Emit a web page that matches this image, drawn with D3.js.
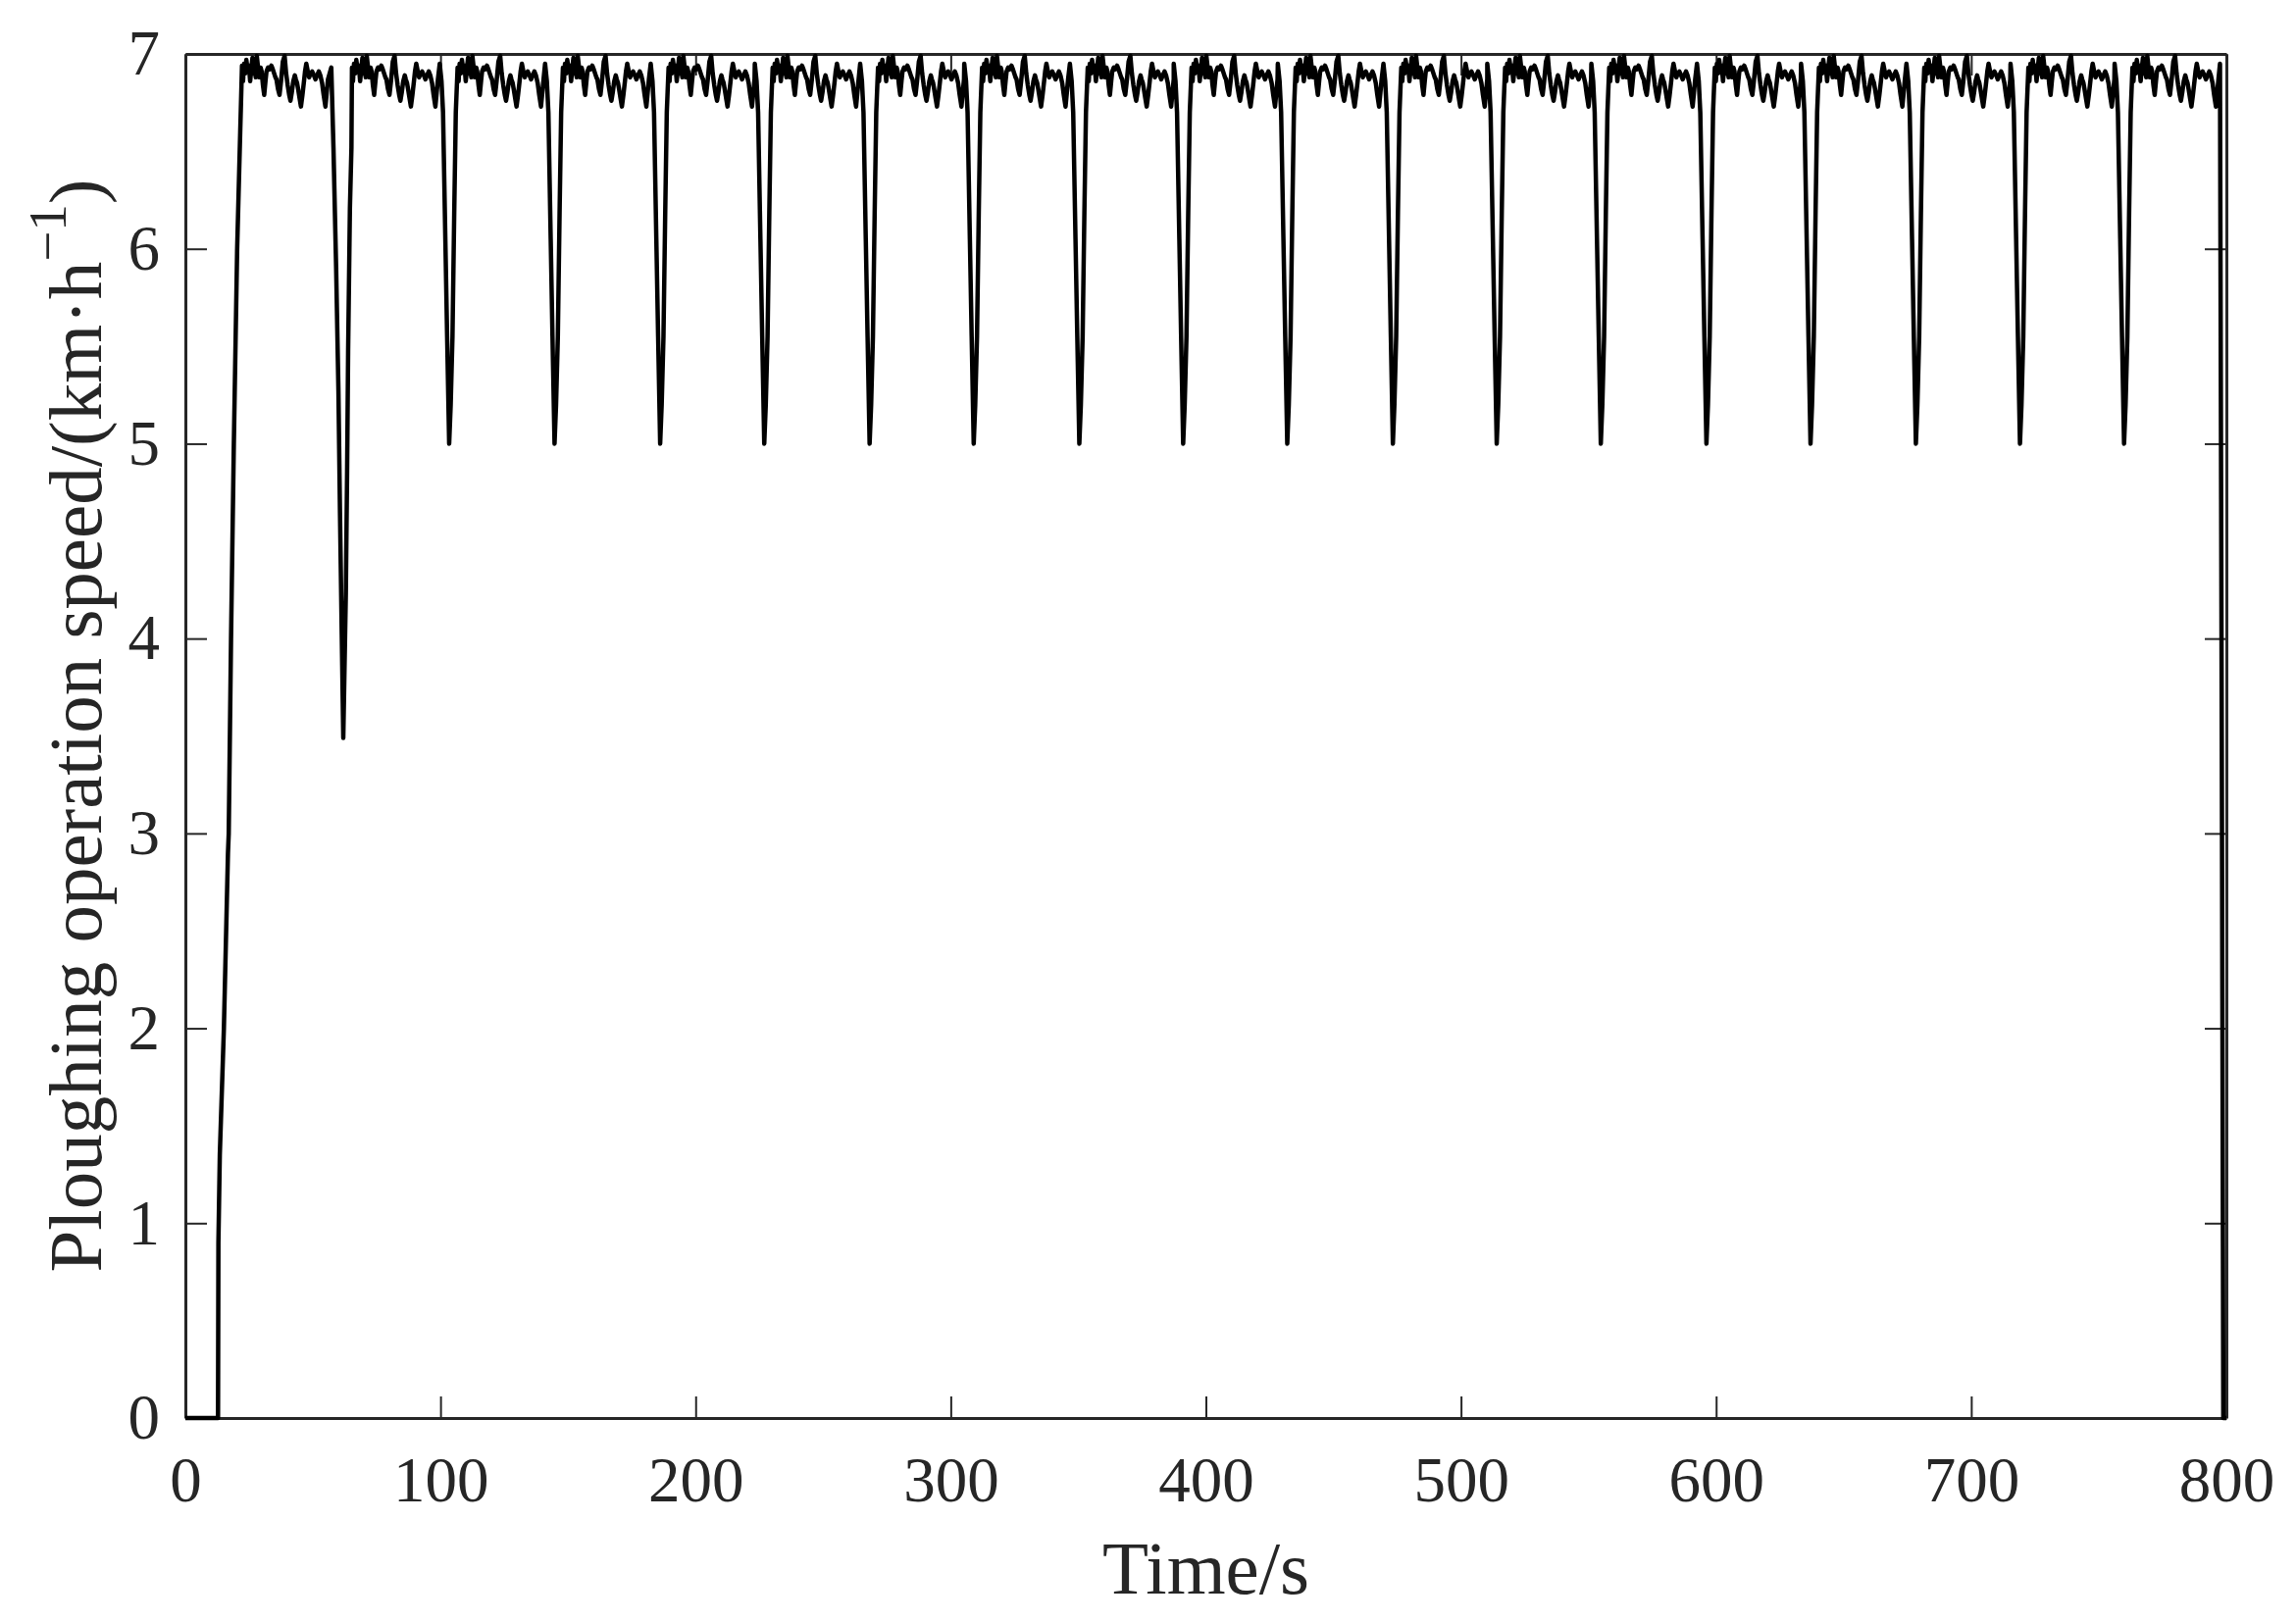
<!DOCTYPE html>
<html>
<head>
<meta charset="utf-8">
<script src="https://cdn.jsdelivr.net/npm/d3@7"></script>
<style>
  body { margin: 0; background: #fff; }
  text { font-family: "Liberation Serif", "Times New Roman", serif; fill: #262626; }
</style>
</head>
<body>
<div id="chart"></div>
<script>
// ploughing speed (km/h) vs time (s)
var startup = [[0, 0], [12.8, 0], [12.95, 0.9], [13.5, 1.35], [15.1, 2.0], [16.7, 2.9], [17.0, 3.0],
    [17.9, 4.0], [19.0, 5.0], [20.3, 6.0], [21.5, 6.6], [22.2, 6.94]];

// first turn, deeper dip
var firstDip = [[57.2, 6.93], [58.05, 6.52], [59.1, 5.9], [60.0, 5.27], [60.6, 4.65], [61.3, 4.02],
    [61.9, 3.49], [62.9, 4.23], [63.4, 4.86], [63.8, 5.48], [64.5, 6.21], [65.1, 6.52]];

// centres of the later dips (to 5 km/h)
var dipTimes = [103.4, 144.7, 186.1, 226.9, 268.2, 309.0, 350.4, 391.1, 431.9, 473.3, 514.0,
    554.8, 596.2, 637.0, 678.3, 719.1, 759.9];

// dip shape, time offset from dip centre
var dipShape = [[-3.7, 6.95], [-3.0, 6.86], [-2.4, 6.70], [-1.5, 6.05], [-0.8, 5.55], [0, 5.0],
    [0.6, 5.2], [1.3, 5.55], [2.0, 6.2], [2.6, 6.7]];

// plateau wiggle, time offset from the preceding dip
var plateau = [[3.3, 6.93], [3.7, 6.86], [4.1, 6.95], [4.6, 6.90], [5.0, 6.97], [5.5, 6.92], [6.0, 6.94],
    [6.5, 6.86], [7.0, 6.93], [7.4, 6.98], [7.8, 6.90], [8.2, 6.93], [8.7, 6.88], [9.1, 6.99],
    [9.6, 6.93], [10.1, 6.88], [10.6, 6.93], [11.0, 6.91], [11.5, 6.84], [12.0, 6.79], [12.5, 6.86],
    [12.9, 6.91], [13.5, 6.93], [14.0, 6.92], [14.8, 6.94], [15.4, 6.92], [15.9, 6.90], [16.4, 6.88],
    [16.8, 6.87], [17.4, 6.82], [18.0, 6.79], [18.6, 6.86], [19.3, 6.96], [20.0, 6.99], [20.6, 6.90],
    [21.2, 6.84], [21.8, 6.79], [22.3, 6.76], [22.8, 6.80], [23.4, 6.86], [24.0, 6.89], [24.4, 6.87],
    [24.9, 6.85], [25.3, 6.82], [25.9, 6.77], [26.4, 6.73], [27.0, 6.79], [27.6, 6.86], [28.0, 6.91],
    [28.5, 6.95], [29.1, 6.91], [29.6, 6.88], [30.2, 6.90], [30.8, 6.91], [31.5, 6.89], [32.1, 6.87],
    [32.7, 6.89], [33.4, 6.91], [34.0, 6.89], [34.7, 6.85], [35.3, 6.79], [36.0, 6.73], [36.5, 6.80],
    [37.0, 6.87]];

// start of each plateau (first one follows the run-up)
var plateauStarts = [18.9, 62.0].concat(dipTimes);

var shutdown = [[797.5, 6.95], [798.2, 3.5], [798.8, 0], [800, 0]];

var xTicks = [0, 100, 200, 300, 400, 500, 600, 700, 800];
var yTicks = [0, 1, 2, 3, 4, 5, 6, 7];

// build series
var data = startup.slice();
plateauStarts.forEach(function (s, i) {
    plateau.forEach(function (p) { data.push([s + p[0], p[1]]); });
    if (i == 0) {
        firstDip.forEach(function (p) { data.push(p); });
    } else if (i < plateauStarts.length - 1) {
        var c = plateauStarts[i + 1];
        dipShape.forEach(function (p) { data.push([c + p[0], p[1]]); });
    }
});
shutdown.forEach(function (p) { data.push(p); });

var W = 2341, H = 1654;
var margin = { top: 55, right: 71, bottom: 208, left: 189 },
    width = W - margin.left - margin.right,
    height = H - margin.top - margin.bottom;

var svg = d3.select('#chart').append('svg')
    .attr('width', W)
    .attr('height', H)
    .append('g')
    .attr('transform', `translate(${margin.left},${margin.top})`);

var x = d3.scaleLinear().domain([0, 800]).range([0, width]);
var y = d3.scaleLinear().domain([0, 7]).range([height, 0]);

var tick = 22;

svg.append('g')
    .attr('class', 'axis')
    .attr('transform', `translate(0,${height})`)
    .call(d3.axisBottom(x).tickValues(xTicks).tickSize(-tick).tickSizeOuter(0).tickPadding(39).tickFormat(d3.format('d')));

svg.append('g')
    .attr('class', 'axis')
    .call(d3.axisTop(x).tickValues(xTicks).tickSize(-tick).tickSizeOuter(0).tickFormat(''));

svg.append('g')
    .attr('class', 'axis')
    .call(d3.axisLeft(y).tickValues(yTicks).tickSize(-tick).tickSizeOuter(0).tickPadding(26).tickFormat(d3.format('d')));

svg.append('g')
    .attr('class', 'axis')
    .attr('transform', `translate(${width},0)`)
    .call(d3.axisRight(y).tickValues(yTicks).tickSize(-tick).tickSizeOuter(0).tickFormat(''));

svg.selectAll('.axis path').attr('stroke', '#262626').attr('stroke-width', 3);
svg.selectAll('.axis line').attr('stroke', '#262626').attr('stroke-width', 2);
svg.selectAll('.axis text')
    .attr('font-family', '"Liberation Serif", "Times New Roman", serif')
    .attr('font-size', 65)
    .attr('fill', '#262626');

var line = d3.line()
    .x(d => x(d[0]))
    .y(d => y(d[1]));

svg.append('path')
    .datum(data)
    .attr('d', line)
    .attr('fill', 'none')
    .attr('stroke', '#000')
    .attr('stroke-width', 4.5)
    .attr('stroke-linejoin', 'round');

// axis labels
svg.append('text')
    .attr('x', width / 2)
    .attr('y', 1625 - margin.top)
    .attr('text-anchor', 'middle')
    .attr('font-size', 77)
    .text('Time/s');

var ylab = svg.append('text')
    .attr('transform', `translate(${103 - margin.left},${740 - margin.top}) rotate(-90)`)
    .attr('text-anchor', 'middle')
    .attr('font-size', 77);
ylab.append('tspan').text('Ploughing operation speed/(km\u00b7h');
ylab.append('tspan').attr('font-size', 55).attr('dy', -36).text('\u22121');
ylab.append('tspan').attr('dy', 36).text(')');
</script>
</body>
</html>
